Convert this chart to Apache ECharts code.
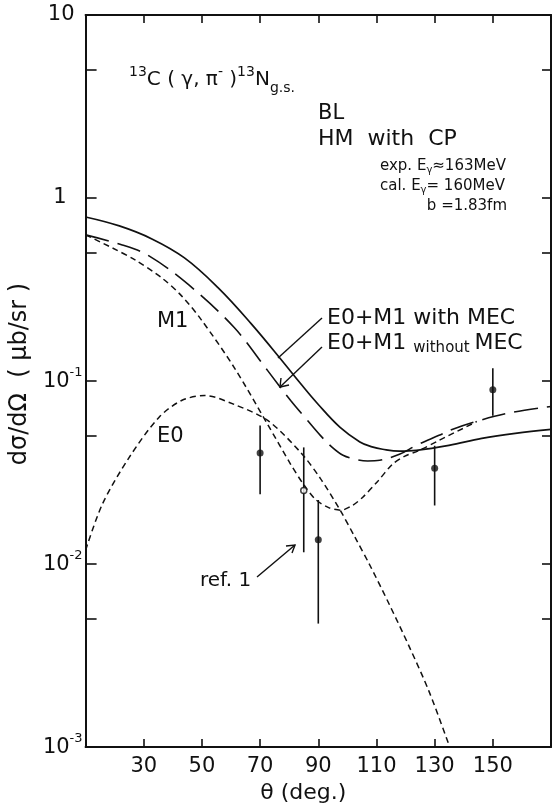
<!DOCTYPE html>
<html><head><meta charset="utf-8">
<script src="https://cdn.jsdelivr.net/npm/echarts@6/dist/echarts.min.js"></script>
<style>html,body{margin:0;padding:0;background:#fff}#c{width:554px;height:809px}</style>
</head><body><div id="c"></div>
<script>
// E0+M1 with MEC (solid)
const withMecX = [10, 21.6, 32.8, 44, 55.6, 66.9, 78.1, 83.9, 89.7, 97.5, 104.3, 108.5, 112.1, 117.9, 123.7, 134.9, 146.2, 157.7, 170];
const withMecY = [0.788, 0.704, 0.598, 0.471, 0.323, 0.206, 0.126, 0.0969, 0.0754, 0.0558, 0.0465, 0.0437, 0.0424, 0.0414, 0.0418, 0.0445, 0.0486, 0.0518, 0.0544];
// E0+M1 without MEC (long dash)
const noMecX = [10, 22.6, 31.8, 45.4, 61.1, 72.6, 80.5, 86.3, 90.7, 94.8, 98.5, 102.9, 107, 111.1, 117.9, 123.7, 131.5, 136, 144.1, 156.4, 170];
const noMecY = [0.629, 0.554, 0.483, 0.336, 0.196, 0.114, 0.0783, 0.0609, 0.0505, 0.0434, 0.0393, 0.0373, 0.0366, 0.0369, 0.0398, 0.0445, 0.0505, 0.0544, 0.0601, 0.0673, 0.0726];
// M1 (short dash)
const m1X = [10, 19.2, 27, 36.2, 43, 49.8, 61.1, 72.6, 80.5, 84.9, 89, 93.4, 97.8, 101.9, 105.3, 110.4, 115.5, 119.6, 124.7, 131.5, 144.5];
const m1Y = [0.629, 0.534, 0.459, 0.366, 0.292, 0.216, 0.1185, 0.0579, 0.0351, 0.0273, 0.0226, 0.0204, 0.0197, 0.021, 0.0232, 0.0283, 0.0351, 0.0388, 0.0418, 0.0474, 0.0601];
// E0 (short dash)
const e0X = [10, 15.8, 25, 35.2, 43, 50.9, 61.1, 72.6, 83.9, 90.7, 97.5, 102.6, 107.7, 114.5, 121.3, 128.1, 134.9];
const e0Y = [0.0119, 0.0213, 0.0383, 0.0633, 0.0783, 0.0834, 0.0745, 0.0609, 0.0408, 0.0294, 0.0197, 0.01403, 0.00988, 0.00598, 0.00353, 0.00201, 0.00103];
// experimental points (filled)
const expX = [70, 90, 130, 150];
const expY = [0.0404, 0.0136, 0.0334, 0.0895];
const expLo = [0.0241, 0.00473, 0.0209, 0.0646];
const expHi = [0.0572, 0.0224, 0.0443, 0.1174];
// ref.1 point (open)
const refX = [85];
const refY = [0.0252];
const refLo = [0.0116];
const refHi = [0.0434];
// ticks
const xTickLabels = [30, 50, 70, 90, 110, 130, 150];
const yLabelValues = [0.001, 0.01, 0.1, 1, 10];
const yTickValues = [0.001, 0.005, 0.01, 0.05, 0.1, 0.5, 1, 5, 10];

const FONT = '"DejaVu Sans", sans-serif';
const zip = (a, b) => a.map((v, i) => [v, b[i]]);
const errData = (x, y, lo, hi) => x.map((v, i) => [v, y[i], lo[i], hi[i]]);

const chart = echarts.init(document.getElementById('c'), null, {renderer: 'canvas'});

function yLabel(v) {
  if (Math.abs(v - 10) < 1e-9) return '{b|10}{p| }';
  if (Math.abs(v - 1) < 1e-9) return '{b|1}{q| }';
  const e = Math.round(Math.log10(v));
  return '{b|10}{e|' + e + '}';
}

const errSeries = (data) => ({
  type: 'custom', xAxisIndex: 0, yAxisIndex: 0, data: data, z: 3,
  renderItem: function (params, api) {
    const x = api.value(0);
    const p1 = api.coord([x, api.value(3)]);
    const p2 = api.coord([x, api.value(2)]);
    return {type: 'line', shape: {x1: p1[0], y1: p1[1], x2: p2[0], y2: p2[1]},
      style: {stroke: '#111', lineWidth: 1.6}};
  }
});

const option = {
  backgroundColor: '#fff',
  animation: false,
  grid: {left: 83, right: 1, top: 15, bottom: 60, containLabel: false},
  xAxis: [{
    type: 'value', min: 10, max: 170, interval: 20, position: 'bottom',
    name: 'θ (deg.)', nameLocation: 'middle', nameGap: 30,
    nameTextStyle: {fontFamily: FONT, fontSize: 22, color: '#111', padding: [0, 30, 0, 0]},
    axisLine: {show: true, lineStyle: {color: '#111', width: 2}},
    axisTick: {show: true, inside: true, length: 8, lineStyle: {color: '#111', width: 1.6}},
    axisLabel: {show: true, margin: 9, fontFamily: FONT, fontSize: 21, color: '#111',
      formatter: v => (xTickLabels.indexOf(v) >= 0 ? String(v) : '')},
    splitLine: {show: false}
  }, {
    type: 'value', min: 10, max: 170, interval: 20, position: 'top',
    axisLine: {show: true, lineStyle: {color: '#111', width: 2}},
    axisTick: {show: true, inside: true, length: 8, lineStyle: {color: '#111', width: 1.6}},
    axisLabel: {show: false}, splitLine: {show: false}
  }],
  yAxis: [{
    type: 'log', logBase: 10, min: 0.001, max: 10, position: 'left',
    name: 'dσ/dΩ  ( μb/sr )', nameLocation: 'middle', nameGap: 49, nameRotate: 90,
    nameTextStyle: {fontFamily: FONT, fontSize: 24, color: '#111', padding: [0, 0, 0, 14]},
    axisLine: {show: true, lineStyle: {color: '#111', width: 2}},
    axisTick: {show: true, inside: true, length: 11, customValues: yTickValues, lineStyle: {color: '#111', width: 1.6}},
    axisLabel: {show: true, margin: 3, customValues: yLabelValues, formatter: yLabel,
      rich: {
        b: {fontFamily: FONT, fontSize: 21, color: '#111', lineHeight: 30},
        e: {fontFamily: FONT, fontSize: 13, color: '#111', verticalAlign: 'top', lineHeight: 14},
        p: {fontFamily: FONT, fontSize: 21, width: 8},
        q: {fontFamily: FONT, fontSize: 21, width: 16}
      }},
    splitLine: {show: false}
  }, {
    type: 'log', logBase: 10, min: 0.001, max: 10, position: 'right',
    axisLine: {show: true, lineStyle: {color: '#111', width: 2}},
    axisTick: {show: true, inside: true, length: 9, customValues: yTickValues, lineStyle: {color: '#111', width: 1.6}},
    axisLabel: {show: false}, splitLine: {show: false}
  }],
  series: [
    {type: 'line', name: 'E0+M1 with MEC', data: zip(withMecX, withMecY), smooth: 0.4,
      showSymbol: false, lineStyle: {color: '#111', width: 1.7, type: 'solid'}},
    {type: 'line', name: 'E0+M1 without MEC', data: zip(noMecX, noMecY), smooth: 0.35,
      showSymbol: false, lineStyle: {color: '#111', width: 1.6, type: [24, 9]}},
    {type: 'line', name: 'M1', data: zip(m1X, m1Y), smooth: 0.3,
      showSymbol: false, lineStyle: {color: '#111', width: 1.5, type: [6, 4]}},
    {type: 'line', name: 'E0', data: zip(e0X, e0Y), smooth: 0.3,
      showSymbol: false, lineStyle: {color: '#111', width: 1.5, type: [6, 4]}},
    errSeries(errData(expX, expY, expLo, expHi)),
    errSeries(errData(refX, refY, refLo, refHi)),
    {type: 'scatter', name: 'exp', data: zip(expX, expY), symbol: 'circle', symbolSize: 7, z: 4,
      itemStyle: {color: '#111'}},
    {type: 'scatter', name: 'ref.1', data: zip(refX, refY), symbol: 'circle', symbolSize: 6, z: 4,
      itemStyle: {color: '#fff', borderColor: '#111', borderWidth: 1.5}}
  ],
  graphic: [
    {type: 'text', left: 129, top: 65, style: {
      text: '{s|13}{m|C ( γ, π}{s|-}{m| )}{s|13}{m|N}{g|g.s.}',
      rich: {
        m: {fontFamily: FONT, fontSize: 20, fill: '#111', lineHeight: 30},
        s: {fontFamily: FONT, fontSize: 14, fill: '#111', verticalAlign: 'top', lineHeight: 14},
        g: {fontFamily: FONT, fontSize: 14, fill: '#111', verticalAlign: 'bottom', lineHeight: 25}
      }}},
    {type: 'text', left: 318, top: 103, style: {text: 'BL', font: '21px ' + FONT, fill: '#111'}},
    {type: 'text', left: 318, top: 128, style: {text: 'HM  with  CP', font: '22px ' + FONT, fill: '#111'}},
    {type: 'text', left: 380, top: 159, style: {
      text: '{a|exp. E}{b|γ}{a|≈163MeV}',
      rich: {a: {fontFamily: FONT, fontSize: 15, fill: '#111', lineHeight: 18},
             b: {fontFamily: FONT, fontSize: 10, fill: '#111', verticalAlign: 'bottom', lineHeight: 12}}}},
    {type: 'text', left: 380, top: 179, style: {
      text: '{a|cal. E}{b|γ}{a|= 160MeV}',
      rich: {a: {fontFamily: FONT, fontSize: 15, fill: '#111', lineHeight: 18},
             b: {fontFamily: FONT, fontSize: 10, fill: '#111', verticalAlign: 'bottom', lineHeight: 12}}}},
    {type: 'text', right: 47, top: 199, style: {text: 'b =1.83fm', font: '15px ' + FONT, fill: '#111'}},
    {type: 'text', left: 157, top: 311, style: {text: 'M1', font: '21px ' + FONT, fill: '#111'}},
    {type: 'text', left: 157, top: 426, style: {text: 'E0', font: '21px ' + FONT, fill: '#111'}},
    {type: 'text', left: 200, top: 571, style: {text: 'ref. 1', font: '20px ' + FONT, fill: '#111'}},
    {type: 'text', left: 327, top: 307, style: {text: 'E0+M1 with MEC', font: '22px ' + FONT, fill: '#111'}},
    {type: 'text', left: 327, top: 332, style: {
      text: '{a|E0+M1 }{b|without }{a|MEC}',
      rich: {a: {fontFamily: FONT, fontSize: 22, fill: '#111', lineHeight: 26},
             b: {fontFamily: FONT, fontSize: 15, fill: '#111', verticalAlign: 'bottom', lineHeight: 23}}}},
    {type: 'polyline', shape: {points: [[322, 318], [278, 358]]}, style: {stroke: '#111', lineWidth: 1.4, fill: null}},
    {type: 'polyline', shape: {points: [[322, 347], [280, 387]]}, style: {stroke: '#111', lineWidth: 1.4, fill: null}},
    {type: 'polyline', shape: {points: [[281, 378], [280, 387], [289, 385]]}, style: {stroke: '#111', lineWidth: 1.4, fill: null}},
    {type: 'polyline', shape: {points: [[257, 577], [295, 545]]}, style: {stroke: '#111', lineWidth: 1.4, fill: null}},
    {type: 'polyline', shape: {points: [[286, 546], [295, 545], [292, 553]]}, style: {stroke: '#111', lineWidth: 1.4, fill: null}}
  ]
};
chart.setOption(option);
</script>
</body></html>
